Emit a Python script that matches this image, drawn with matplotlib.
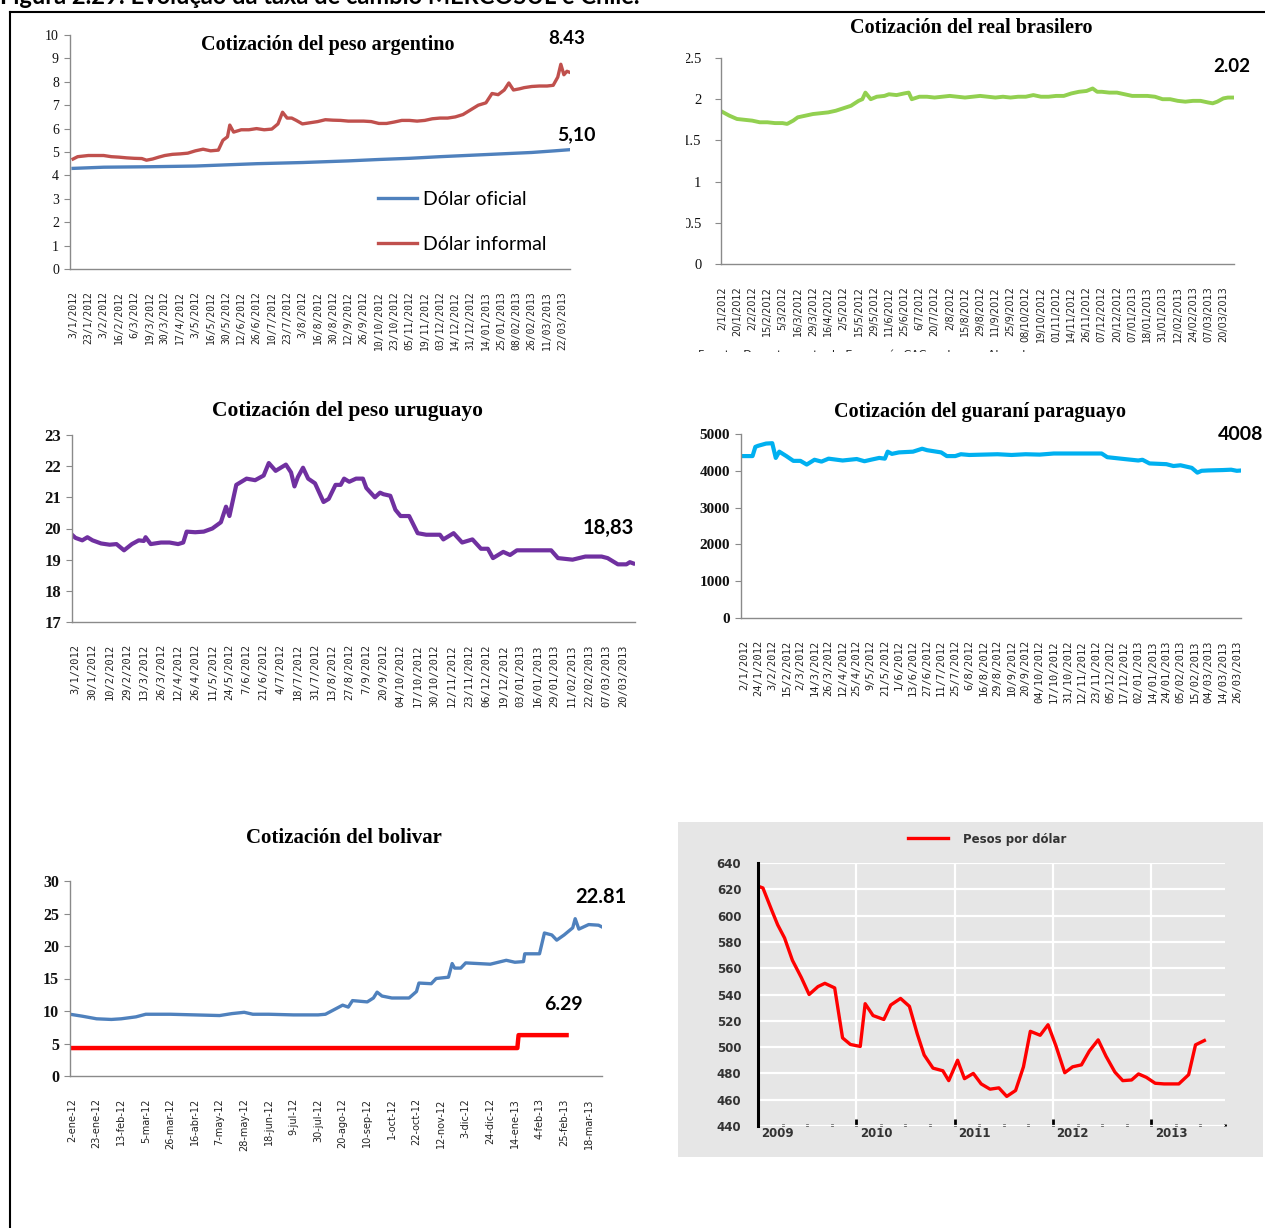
import numpy as np
import matplotlib
matplotlib.use("Agg")
import matplotlib.pyplot as plt
from matplotlib.patches import Rectangle
from matplotlib.lines import Line2D
from matplotlib.ticker import FuncFormatter

W, H = 1265, 1228

# ---------------- data ----------------
# peso argentino: x in category-label units (0 = first label)
arg_labels = ["3/1/2012", "23/1/2012", "3/2/2012", "16/2/2012", "6/3/2012", "19/3/2012",
              "30/3/2012", "17/4/2012", "3/5/2012", "16/5/2012", "30/5/2012", "12/6/2012",
              "26/6/2012", "10/7/2012", "23/7/2012", "3/8/2012", "16/8/2012", "30/8/2012",
              "12/9/2012", "26/9/2012", "10/10/2012", "23/10/2012", "05/11/2012", "19/11/2012",
              "03/12/2012", "14/12/2012", "31/12/2012", "14/01/2013", "25/01/2013", "08/02/2013",
              "26/02/2013", "11/03/2013", "22/03/2013"]
arg_inf_x = [0, 0.3, 1, 2, 2.5, 3, 3.5, 4, 4.5, 4.8, 5.2, 5.6, 6, 6.5, 7, 7.5, 8, 8.5, 9, 9.5,
             9.8, 10.1, 10.25, 10.5, 11, 11.5, 12, 12.5, 13, 13.4, 13.7, 14.0, 14.3, 14.6, 15,
             15.5, 16, 16.5, 17, 17.5, 18, 19, 19.5, 20, 20.5, 21, 21.5, 22, 22.5, 23, 23.5, 24,
             24.5, 25, 25.5, 26, 26.5, 27, 27.4, 27.8, 28.2, 28.5, 28.8, 29.2, 29.5, 30, 30.5,
             31, 31.4, 31.7, 31.9, 32.1, 32.3, 32.5]
arg_inf_y = [4.70, 4.80, 4.85, 4.85, 4.80, 4.78, 4.75, 4.73, 4.72, 4.65, 4.70, 4.78, 4.85, 4.90,
             4.92, 4.95, 5.05, 5.12, 5.05, 5.08, 5.50, 5.65, 6.15, 5.85, 5.95, 5.95, 6.00, 5.95,
             5.98, 6.20, 6.70, 6.45, 6.45, 6.35, 6.20, 6.25, 6.30, 6.38, 6.36, 6.35, 6.32, 6.32,
             6.30, 6.22, 6.22, 6.28, 6.35, 6.35, 6.32, 6.35, 6.42, 6.45, 6.45, 6.50, 6.60, 6.80,
             7.00, 7.10, 7.50, 7.45, 7.65, 7.95, 7.65, 7.70, 7.75, 7.80, 7.82, 7.82, 7.85, 8.20,
             8.75, 8.30, 8.45, 8.40]
arg_of_x = [0, 2, 5, 8, 10, 12, 15, 18, 20, 22, 24, 26, 28, 30, 31.5, 32.5]
arg_of_y = [4.30, 4.35, 4.37, 4.40, 4.45, 4.50, 4.55, 4.62, 4.68, 4.73, 4.80, 4.86, 4.92, 4.98,
            5.05, 5.10]

# real brasilero
bra_labels = ["2/1/2012", "20/1/2012", "2/2/2012", "15/2/2012", "5/3/2012", "16/3/2012",
              "29/3/2012", "16/4/2012", "2/5/2012", "15/5/2012", "29/5/2012", "11/6/2012",
              "25/6/2012", "6/7/2012", "20/7/2012", "2/8/2012", "15/8/2012", "29/8/2012",
              "11/9/2012", "25/9/2012", "08/10/2012", "19/10/2012", "01/11/2012", "14/11/2012",
              "26/11/2012", "07/12/2012", "20/12/2012", "07/01/2013", "18/01/2013", "31/01/2013",
              "12/02/2013", "24/02/2013", "07/03/2013", "20/03/2013"]
bra_x = [0, 0.5, 1, 1.5, 2, 2.5, 3, 3.5, 4, 4.3, 4.7, 5, 5.5, 6, 6.5, 7, 7.5, 8, 8.5, 9, 9.25,
         9.45, 9.8, 10.2, 10.7, 11, 11.5, 12, 12.3, 12.5, 13, 13.5, 14, 14.5, 15, 15.5, 16,
         16.5, 17, 17.5, 18, 18.5, 19, 19.5, 20, 20.5, 21, 21.5, 22, 22.5, 23, 23.5, 24, 24.4,
         24.7, 25, 25.5, 26, 26.5, 27, 27.5, 28, 28.5, 29, 29.5, 30, 30.5, 31, 31.5, 32, 32.3,
         32.6, 33, 33.3, 33.6]
bra_y = [1.85, 1.80, 1.76, 1.75, 1.74, 1.72, 1.72, 1.71, 1.71, 1.70, 1.74, 1.78, 1.80, 1.82,
         1.83, 1.84, 1.86, 1.89, 1.92, 1.98, 2.00, 2.08, 2.00, 2.03, 2.04, 2.06, 2.05, 2.07,
         2.08, 2.00, 2.03, 2.03, 2.02, 2.03, 2.04, 2.03, 2.02, 2.03, 2.04, 2.03, 2.02, 2.03,
         2.02, 2.03, 2.03, 2.05, 2.03, 2.03, 2.04, 2.04, 2.07, 2.09, 2.10, 2.13, 2.09, 2.09,
         2.08, 2.08, 2.06, 2.04, 2.04, 2.04, 2.03, 2.00, 2.00, 1.98, 1.97, 1.98, 1.98, 1.96,
         1.95, 1.97, 2.01, 2.02, 2.02]

# peso uruguayo
uru_labels = ["3/1/2012", "30/1/2012", "10/2/2012", "29/2/2012", "13/3/2012", "26/3/2012",
              "12/4/2012", "26/4/2012", "11/5/2012", "24/5/2012", "7/6/2012", "21/6/2012",
              "4/7/2012", "18/7/2012", "31/7/2012", "13/8/2012", "27/8/2012", "7/9/2012",
              "20/9/2012", "04/10/2012", "17/10/2012", "30/10/2012", "12/11/2012", "23/11/2012",
              "06/12/2012", "19/12/2012", "03/01/2013", "16/01/2013", "29/01/2013", "11/02/2013",
              "22/02/2013", "07/03/2013", "20/03/2013"]
uru_x = [-0.2, 0, 0.4, 0.7, 1.0, 1.5, 2.0, 2.4, 2.84, 3.3, 3.7, 4.0, 4.1, 4.4, 5.0, 5.5, 6.0,
         6.3, 6.5, 7.0, 7.5, 8.0, 8.5, 8.8, 9.0, 9.4, 10.0, 10.5, 11.0, 11.3, 11.7, 12.3, 12.6,
         12.8, 13.0, 13.3, 13.6, 14.0, 14.5, 14.8, 15.2, 15.5, 15.7, 16.0, 16.4, 16.8, 17.0,
         17.5, 17.8, 18.0, 18.4, 18.7, 19.0, 19.5, 20.0, 20.5, 21.3, 21.5, 22.1, 22.6, 23.2,
         23.7, 24.1, 24.4, 25.0, 25.4, 25.8, 27.8, 28.2, 29.05, 29.8, 30.75, 31.1, 31.7, 32.2,
         32.4, 32.6]
uru_y = [19.80, 19.70, 19.62, 19.72, 19.62, 19.52, 19.48, 19.50, 19.30, 19.50, 19.62, 19.60,
         19.72, 19.50, 19.55, 19.55, 19.50, 19.55, 19.90, 19.88, 19.90, 20.00, 20.20, 20.70,
         20.40, 21.40, 21.60, 21.55, 21.70, 22.10, 21.85, 22.05, 21.80, 21.35, 21.65, 21.95,
         21.60, 21.45, 20.85, 20.95, 21.40, 21.40, 21.60, 21.50, 21.60, 21.60, 21.30, 21.00,
         21.15, 21.10, 21.05, 20.60, 20.40, 20.40, 19.85, 19.80, 19.80, 19.65, 19.85, 19.55,
         19.65, 19.35, 19.35, 19.05, 19.25, 19.15, 19.30, 19.30, 19.05, 19.00, 19.10, 19.10,
         19.05, 18.85, 18.85, 18.92, 18.88]

# guarani paraguayo
par_labels = ["2/1/2012", "24/1/2012", "3/2/2012", "15/2/2012", "2/3/2012", "14/3/2012",
              "26/3/2012", "12/4/2012", "25/4/2012", "9/5/2012", "21/5/2012", "1/6/2012",
              "13/6/2012", "27/6/2012", "11/7/2012", "25/7/2012", "6/8/2012", "16/8/2012",
              "29/8/2012", "10/9/2012", "20/9/2012", "04/10/2012", "17/10/2012", "31/10/2012",
              "12/11/2012", "23/11/2012", "05/12/2012", "17/12/2012", "02/01/2013", "14/01/2013",
              "24/01/2013", "05/02/2013", "15/02/2013", "04/03/2013", "14/03/2013", "26/03/2013"]
par_x = [-0.2, 0.6, 0.8, 1.0, 1.56, 2.0, 2.25, 2.5, 3.0, 3.5, 4.0, 4.45, 5.0, 5.5, 6.0, 7.0,
         8.0, 8.55, 9.0, 9.6, 10.0, 10.2, 10.5, 11.0, 12.0, 12.65, 13.0, 14.0, 14.4, 15.0, 15.4,
         16.0, 18.0, 19.0, 20.0, 21.0, 22.0, 24.0, 25.4, 25.8, 27.0, 28.0, 28.3, 28.8, 30.0,
         30.5, 31.0, 31.8, 32.2, 32.5, 33.0, 34.0, 34.6, 35.0, 35.3]
par_y = [4400, 4400, 4650, 4680, 4740, 4750, 4350, 4520, 4400, 4270, 4270, 4170, 4300, 4250,
         4330, 4280, 4320, 4260, 4300, 4350, 4330, 4520, 4460, 4500, 4520, 4600, 4560, 4500,
         4400, 4400, 4450, 4430, 4450, 4430, 4450, 4440, 4470, 4470, 4470, 4370, 4320, 4280,
         4300, 4200, 4180, 4130, 4150, 4080, 3950, 4000, 4010, 4020, 4030, 4000, 4008]

# bolivar
bol_labels = ["2-ene-12", "23-ene-12", "13-feb-12", "5-mar-12", "26-mar-12", "16-abr-12",
              "7-may-12", "28-may-12", "18-jun-12", "9-jul-12", "30-jul-12", "20-ago-12",
              "10-sep-12", "1-oct-12", "22-oct-12", "12-nov-12", "3-dic-12", "24-dic-12",
              "14-ene-13", "4-feb-13", "25-feb-13", "18-mar-13"]
bol_par_x = [-0.08, 0.42, 1.0, 1.6, 2.0, 2.6, 3.0, 4.0, 5.0, 6.0, 6.5, 7.0, 7.35, 8.0, 9.0,
             10.0, 10.3, 11.0, 11.23, 11.4, 12.0, 12.25, 12.4, 12.6, 13.0, 13.7, 14.0, 14.1,
             14.6, 14.8, 15.3, 15.45, 15.55, 15.8, 16.0, 17.0, 17.65, 18.0, 18.35, 18.4, 19.0,
             19.2, 19.5, 19.7, 20.0, 20.35, 20.45, 20.6, 21.0, 21.4, 21.6]
bol_par_y = [9.5, 9.2, 8.8, 8.7, 8.8, 9.1, 9.5, 9.5, 9.4, 9.3, 9.6, 9.8, 9.5, 9.5, 9.4, 9.4,
             9.5, 10.9, 10.6, 11.6, 11.4, 12.0, 12.9, 12.3, 12.0, 12.0, 13.0, 14.3, 14.2, 15.0,
             15.2, 17.3, 16.6, 16.6, 17.4, 17.2, 17.8, 17.5, 17.6, 18.8, 18.8, 22.0, 21.7, 20.9,
             21.7, 22.8, 24.2, 22.6, 23.3, 23.2, 22.81]
bol_of_x = [-0.08, 18.1, 18.15, 20.1]
bol_of_y = [4.30, 4.30, 6.29, 6.29]

# peso chileno (x in years)
chi_t = [2009.015, 2009.05, 2009.14, 2009.20, 2009.27, 2009.35, 2009.44, 2009.52, 2009.61,
         2009.68, 2009.78, 2009.86, 2009.94, 2010.04, 2010.09, 2010.17, 2010.28, 2010.35,
         2010.45, 2010.54, 2010.62, 2010.69, 2010.78, 2010.88, 2010.94, 2011.03, 2011.10,
         2011.19, 2011.27, 2011.36, 2011.45, 2011.53, 2011.62, 2011.70, 2011.77, 2011.87,
         2011.95, 2012.03, 2012.12, 2012.20, 2012.29, 2012.37, 2012.46, 2012.54, 2012.63,
         2012.71, 2012.80, 2012.87, 2012.95, 2013.04, 2013.13, 2013.28, 2013.38, 2013.45,
         2013.54]
chi_y = [622, 621, 604, 593, 583, 566, 553, 540, 546, 548.5, 545, 507, 502, 500.5, 533, 524,
         521, 532, 537, 531, 510, 494, 484, 482, 474.5, 490, 476, 480, 472, 468, 469, 462.5,
         467, 485, 512, 509, 517, 501, 480.5, 485, 486.5, 497, 505.5, 493, 481, 474.5, 475,
         479.6, 477, 472.5, 472, 472, 479, 501.7, 505]
chi_years = [2009, 2010, 2011, 2012, 2013]

# ---------------- figure ----------------
fig = plt.figure(figsize=(W / 100, H / 100), dpi=100)
fig.patch.set_facecolor("white")

SERIF = "Liberation Serif"
NUM = "Lato"


def box(x0, y0, x1, y1):
    return fig.add_axes([x0 / W, 1 - y1 / H, (x1 - x0) / W, (y1 - y0) / H])


def ftext(x, y, s, **kw):
    return fig.text(x / W, 1 - y / H, s, **kw)


def mask(x0, y0, x1, y1, z=5):
    fig.add_artist(Rectangle((x0 / W, 1 - y1 / H), (x1 - x0) / W, (y1 - y0) / H,
                             transform=fig.transFigure, facecolor="white",
                             edgecolor="none", zorder=z))


def excel_axes(ax, labels, xlim, ylim, yticks, yfs, xfamily, xfs, ypad=4, ybold=False):
    ax.set_xlim(xlim)
    ax.set_ylim(ylim)
    ax.set_yticks(yticks)
    ax.yaxis.set_major_formatter(FuncFormatter(lambda v, p: f"{v:g}"))
    ax.set_xticks(range(len(labels)))
    ax.set_xticklabels(labels)
    for s in ["top", "right"]:
        ax.spines[s].set_visible(False)
    for s in ["left", "bottom"]:
        ax.spines[s].set_color("#8a8a8a")
        ax.spines[s].set_linewidth(1.0)
    ax.tick_params(axis="y", length=4, color="#8a8a8a", labelsize=yfs, pad=ypad,
                   labelfontfamily=SERIF, labelcolor="#111111")
    ax.tick_params(axis="x", length=0, pad=16, labelsize=xfs, labelrotation=90,
                   labelfontfamily=xfamily, labelcolor="#222222")
    if ybold:
        for lab in ax.get_yticklabels():
            lab.set_fontweight("bold")
    ax.patch.set_alpha(0)


# panel 1: peso argentino
ax1 = box(70, 35, 570, 269)
excel_axes(ax1, arg_labels, (-0.2, 32.5), (0, 10), range(0, 11), 10, "DejaVu Sans Mono", 7)
ax1.plot(arg_of_x, arg_of_y, color="#4f81bd", lw=2.4, label="Dólar oficial")
ax1.plot(arg_inf_x, arg_inf_y, color="#c0504d", lw=2.4, label="Dólar informal")
ax1.legend(loc="upper left", bbox_to_anchor=(0.616, 0.333), frameon=False,
           prop={"family": NUM, "size": 14}, handlelength=2.0, handletextpad=0.3,
           labelspacing=1.45, borderpad=0, borderaxespad=0)
ftext(328, 45, "Cotización del peso argentino", family=SERIF, size=14.5, weight="bold",
      ha="center", va="center")
ftext(567, 39, "8.43", family=NUM, size=13.5, weight="bold", ha="center", va="center")
ftext(576, 135, "5,10", family=NUM, size=14, weight="bold", ha="center", va="center")

# panel 2: real brasilero
ax2 = box(721, 58, 1234, 264)
excel_axes(ax2, bra_labels, (-0.05, 33.7), (0, 2.5), [0, 0.5, 1, 1.5, 2, 2.5], 10.5,
           "DejaVu Sans", 7, ypad=10)
ax2.plot(bra_x, bra_y, color="#92d050", lw=2.8)
ftext(971, 28, "Cotización del real brasilero", family=SERIF, size=14.5, weight="bold",
      ha="center", va="center")
ftext(1232, 66, "2.02", family=NUM, size=13.5, weight="bold", ha="center", va="center")
ftext(698, 349, "Fuente: Departamento de Economía CAC en base a Abeceb.com",
      family="DejaVu Sans", size=8, ha="left", va="top", color="#222222")

# panel 3: peso uruguayo
ax3 = box(72, 435, 635, 622)
excel_axes(ax3, uru_labels, (-0.2, 32.7), (17, 23), range(17, 24), 12, "DejaVu Sans Mono", 7.5,
           ybold=True)
ax3.plot(uru_x, uru_y, color="#7030a0", lw=3.0)
ftext(347, 411, "Cotización del peso uruguayo", family=SERIF, size=15.5, weight="bold",
      ha="center", va="center")
ftext(608, 528, "18,83", family=NUM, size=14.5, weight="bold", ha="center", va="center")

# panel 4: guarani paraguayo
ax4 = box(741, 434, 1241, 618)
excel_axes(ax4, par_labels, (-0.22, 35.3), (0, 5000), range(0, 5001, 1000), 11,
           "DejaVu Sans Mono", 7.5, ybold=True)
ax4.plot(par_x, par_y, color="#00b0f0", lw=3.0)
ftext(980, 412, "Cotización del guaraní paraguayo", family=SERIF, size=14.5, weight="bold",
      ha="center", va="center")
ftext(1241, 435, "4008", family=NUM, size=14, weight="bold", ha="center", va="center")

# panel 5: bolivar
ax5 = box(70, 881, 602, 1076)
excel_axes(ax5, bol_labels, (-0.08, 21.54), (0, 30), range(0, 31, 5), 11.5, "DejaVu Sans", 7,
           ybold=True)
ax5.plot(bol_par_x, bol_par_y, color="#4f81bd", lw=2.4)
ax5.plot(bol_of_x, bol_of_y, color="#ff0000", lw=3.2)
ftext(344, 838, "Cotización del bolivar", family=SERIF, size=15, weight="bold",
      ha="center", va="center")
ftext(601, 897, "22.81", family=NUM, size=14.5, weight="bold", ha="center", va="center")
ftext(563, 1005, "6.29", family=NUM, size=14, weight="bold", ha="center", va="center")

# panel 6: peso chileno
fig.add_artist(Rectangle((678 / W, 1 - 1157 / H), (1263 - 678) / W, (1157 - 822) / H,
                         transform=fig.transFigure, facecolor="#e6e6e6", edgecolor="none",
                         zorder=-1))
ax6 = box(758, 863, 1225, 1126)
ax6.set_facecolor("none")
ax6.plot(chi_t, chi_y, color="#ff0000", lw=2.4, label="Pesos por dólar")
ax6.set_xlim(2009.0, 2013.59)
ax6.set_ylim(440, 640)
ax6.set_yticks(range(440, 641, 20))
ax6.set_xticks(chi_years[1:])
ax6.set_xticklabels([])
ax6.set_xticks([y + q for y in chi_years for q in (0.25, 0.5, 0.75)], minor=True)
ax6.grid(True, which="major", color="white", lw=1.6)
ax6.set_axisbelow(True)
for s in ["top", "right", "bottom"]:
    ax6.spines[s].set_visible(False)
ax6.spines["left"].set_color("black")
ax6.spines["left"].set_linewidth(2.2)
ax6.tick_params(axis="y", length=0, pad=12, labelsize=8.5, labelcolor="#333333",
                labelfontfamily="DejaVu Sans")
for lab in ax6.get_yticklabels():
    lab.set_fontweight("bold")
ax6.tick_params(axis="x", which="major", direction="in", length=5, width=2, color="black")
ax6.tick_params(axis="x", which="minor", direction="in", length=1.5, width=2, color="black")
for yr in chi_years:
    ax6.text(yr + 0.2, -0.028, str(yr), transform=ax6.get_xaxis_transform(),
             ha="center", va="center", size=8.5, weight="bold", color="#333333",
             family="DejaVu Sans")
fig.legend(*ax6.get_legend_handles_labels(), loc="center", bbox_to_anchor=(987 / W, 1 - 839 / H),
           frameon=False, prop={"family": "DejaVu Sans", "size": 8.5, "weight": "bold"},
           handlelength=3.4, handletextpad=1.3, borderpad=0, labelcolor="#333333")

# crops of the original composite
mask(640, 40, 686, 290)
mask(680, 352, 1265, 397)
mask(12, 721, 1265, 745)

# page frame and cut-off caption
fig.add_artist(Line2D([10 / W, 10 / W], [0, 1 - 11.5 / H], transform=fig.transFigure,
                      color="black", lw=1.5, zorder=6))
fig.add_artist(Line2D([10 / W, 1], [1 - 11.5 / H, 1 - 11.5 / H], transform=fig.transFigure,
                      color="black", lw=1.5, zorder=6))
ftext(0, 4, "Figura 2.29: Evolução da taxa de câmbio MERCOSUL e Chile.", family=NUM,
      size=17, weight="bold", ha="left", va="baseline", zorder=7)

fig.savefig("out.png", dpi=100)
